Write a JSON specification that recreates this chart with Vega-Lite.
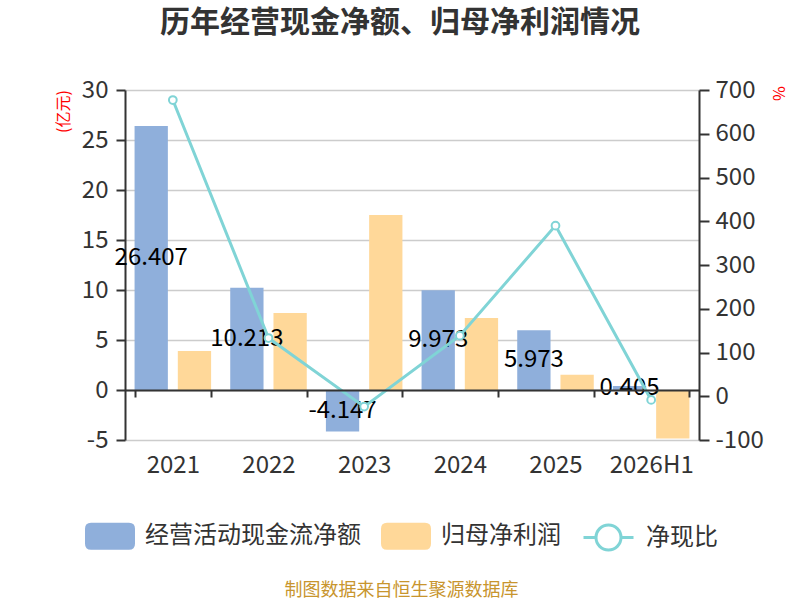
{
  "$schema": "https://vega.github.io/schema/vega-lite/v6.json",
  "width": 574,
  "height": 350,
  "autosize": "none",
  "padding": {"left": 125, "top": 90, "right": 101, "bottom": 160},
  "config": {
    "font": "Noto Sans CJK SC",
    "view": {"stroke": null},
    "locale": {
      "number": {"decimal": ".", "thousands": ",", "grouping": [3], "currency": ["", ""], "minus": "-"}
    }
  },
  "title": {
    "text": "历年经营现金净额、归母净利润情况",
    "fontSize": 30,
    "fontWeight": "bold",
    "color": "#333333",
    "anchor": "middle",
    "frame": "group",
    "dx": -12,
    "offset": 40
  },
  "datasets": {
    "flows": [
      {"year": "2021", "series": "经营活动现金流净额", "value": 26.407},
      {"year": "2021", "series": "归母净利润", "value": 3.9},
      {"year": "2022", "series": "经营活动现金流净额", "value": 10.213},
      {"year": "2022", "series": "归母净利润", "value": 7.7},
      {"year": "2023", "series": "经营活动现金流净额", "value": -4.147},
      {"year": "2023", "series": "归母净利润", "value": 17.5},
      {"year": "2024", "series": "经营活动现金流净额", "value": 9.973},
      {"year": "2024", "series": "归母净利润", "value": 7.2},
      {"year": "2025", "series": "经营活动现金流净额", "value": 5.973},
      {"year": "2025", "series": "归母净利润", "value": 1.53},
      {"year": "2026H1", "series": "经营活动现金流净额", "value": 0.405},
      {"year": "2026H1", "series": "归母净利润", "value": -4.85}
    ],
    "ratio": [
      {"year": "2021", "ratio": 677},
      {"year": "2022", "ratio": 133},
      {"year": "2023", "ratio": -23.7},
      {"year": "2024", "ratio": 138.5},
      {"year": "2025", "ratio": 390},
      {"year": "2026H1", "ratio": -8.4}
    ]
  },
  "layer": [
    {
      "data": {"name": "flows"},
      "mark": {"type": "bar"},
      "encoding": {
        "x": {
          "field": "year",
          "type": "nominal",
          "scale": {"paddingInner": 0.2, "paddingOuter": 0.1},
          "axis": {
            "title": "制图数据来自恒生聚源数据库",
            "titleColor": "#c8952e",
            "titleFontSize": 18,
            "titleFontWeight": "normal",
            "titleX": 276,
            "titleY": 200,
            "titleAlign": "center",
            "titleBaseline": "middle",
            "offset": -50,
            "labelAngle": 0,
            "labelFontSize": 24,
            "labelColor": "#333333",
            "labelPadding": 56,
            "tickBand": "extent",
            "tickSize": 7,
            "tickWidth": 2,
            "tickColor": "#333333",
            "domainColor": "#333333",
            "domainWidth": 2,
            "grid": false,
            "zindex": 1
          }
        },
        "xOffset": {
          "field": "series",
          "type": "nominal",
          "sort": ["经营活动现金流净额", "归母净利润"],
          "scale": {"paddingInner": 0.23, "paddingOuter": 0}
        },
        "y": {
          "field": "value",
          "type": "quantitative",
          "scale": {"domain": [-5, 30], "nice": false, "zero": false},
          "axis": {
            "orient": "left",
            "title": "(亿元)",
            "titleColor": "#ff0000",
            "titleFontSize": 16,
            "titleFontWeight": "normal",
            "titleAngle": 270,
            "titleX": -62,
            "titleY": 21,
            "titleAlign": "center",
            "titleBaseline": "middle",
            "values": [-5, 0, 5, 10, 15, 20, 25, 30],
            "labelFontSize": 24,
            "labelColor": "#333333",
            "labelPadding": 8,
            "tickSize": 9,
            "tickWidth": 2,
            "tickColor": "#333333",
            "domainColor": "#333333",
            "domainWidth": 2,
            "gridColor": "#cccccc",
            "gridWidth": 1.5
          }
        },
        "color": {
          "field": "series",
          "type": "nominal",
          "sort": ["经营活动现金流净额", "归母净利润"],
          "scale": {
            "domain": ["经营活动现金流净额", "归母净利润"],
            "range": ["#8fafdb", "#ffd899"]
          },
          "legend": {
            "orient": "none",
            "legendX": -40,
            "legendY": 421,
            "direction": "horizontal",
            "title": null,
            "padding": 0,
            "symbolType": "M-1,-0.3 Q-1,-0.54 -0.76,-0.54 L0.76,-0.54 Q1,-0.54 1,-0.3 L1,0.3 Q1,0.54 0.76,0.54 L-0.76,0.54 Q-1,0.54 -1,0.3 Z",
            "symbolSize": 2500,
            "symbolStrokeWidth": 0,
            "symbolOpacity": 1,
            "labelFontSize": 24,
            "labelColor": "#333333",
            "labelOffset": 10,
            "labelLimit": 0,
            "columnPadding": 20
          }
        }
      }
    },
    {
      "data": {"name": "flows"},
      "transform": [{"filter": "datum.series === '经营活动现金流净额'"}],
      "mark": {"type": "text", "fontSize": 24, "color": "#000000", "align": "center", "baseline": "middle"},
      "encoding": {
        "x": {"field": "year", "type": "nominal"},
        "xOffset": {"field": "series", "type": "nominal", "sort": ["经营活动现金流净额", "归母净利润"]},
        "y": {
          "field": "value",
          "type": "quantitative",
          "scale": {"domain": [-10, 60], "nice": false, "zero": false},
          "axis": null
        },
        "text": {"field": "value", "type": "quantitative", "format": ".3f"}
      }
    },
    {
      "data": {"name": "ratio"},
      "layer": [
        {
          "mark": {"type": "line", "strokeWidth": 3},
          "encoding": {
            "x": {"field": "year", "type": "nominal"},
            "y": {
              "field": "ratio",
              "type": "quantitative",
              "scale": {"domain": [-100, 700], "nice": false, "zero": false},
              "axis": {
                "orient": "right",
                "title": "%",
                "titleColor": "#ff0000",
                "titleFontSize": 16,
                "titleFontWeight": "normal",
                "titleAngle": 90,
                "titleX": 78,
                "titleY": 3,
                "titleAlign": "center",
                "titleBaseline": "middle",
                "values": [-100, 0, 100, 200, 300, 400, 500, 600, 700],
                "grid": false,
                "labelFontSize": 24,
                "labelColor": "#333333",
                "labelPadding": 6,
                "tickSize": 10,
                "tickWidth": 2,
                "tickColor": "#333333",
                "domainColor": "#333333",
                "domainWidth": 2
              }
            },
            "stroke": {
              "datum": "净现比",
              "scale": {"range": ["#80d4d6"]},
              "legend": {
                "orient": "none",
                "legendX": 457,
                "legendY": 421,
                "title": null,
                "padding": 0,
                "symbolType": "M-1,0 L-0.5,0 M0.5,0 L1,0 M-0.5,0 C-0.5,-0.276 -0.276,-0.5 0,-0.5 C0.276,-0.5 0.5,-0.276 0.5,0 C0.5,0.276 0.276,0.5 0,0.5 C-0.276,0.5 -0.5,0.276 -0.5,0 Z",
                "symbolSize": 2500,
                "symbolStrokeWidth": 3,
                "symbolFillColor": "#ffffff",
                "labelFontSize": 24,
                "labelColor": "#333333",
                "labelOffset": 11,
                "labelLimit": 0
              }
            }
          }
        },
        {
          "mark": {"type": "circle", "size": 60, "fill": "#ffffff", "stroke": "#80d4d6", "strokeWidth": 2, "opacity": 1},
          "encoding": {
            "x": {"field": "year", "type": "nominal"},
            "y": {"field": "ratio", "type": "quantitative"}
          }
        }
      ]
    }
  ],
  "resolve": {"scale": {"y": "independent"}}
}
